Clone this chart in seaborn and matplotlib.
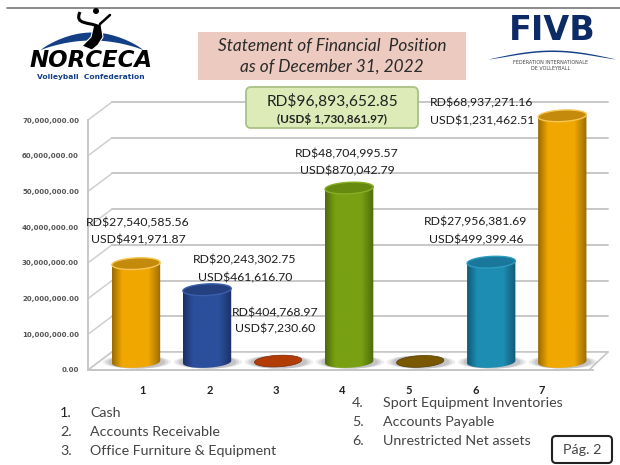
import numpy as np
import matplotlib
matplotlib.use("Agg")
import matplotlib.pyplot as plt
import seaborn as sns
from matplotlib.colors import LinearSegmentedColormap
from matplotlib.patches import Ellipse, FancyBboxPatch, PathPatch, Polygon, Rectangle
from matplotlib.path import Path

categories = ["1", "2", "3", "4", "5", "6", "7"]
values = [27540585.56, 20243302.75, 404768.97, 48704995.57, 300000.0, 27956381.69, 68937271.16]
rd_labels = ["RD$27,540,585.56", "RD$20,243,302.75", "RD$404,768.97", "RD$48,704,995.57",
             "RD$27,956,381.69", "RD$68,937,271.16"]
usd_labels = ["USD$491,971.87", "USD$461,616.70", "USD$7,230.60", "USD$870,042.79",
              "USD$499,399.46", "USD$1,231,462.51"]
y_ticks = [0, 10000000, 20000000, 30000000, 40000000, 50000000, 60000000, 70000000]
y_tick_labels = ["0.00", "10,000,000.00", "20,000,000.00", "30,000,000.00", "40,000,000.00",
                 "50,000,000.00", "60,000,000.00", "70,000,000.00"]
legend_left = ["Cash", "Accounts Receivable", "Office Furniture & Equipment"]
legend_right = ["Sport Equipment Inventories", "Accounts Payable", "Unrestricted Net assets"]
bar_colors = ["#f0a800", "#2c4f9c", "#b23c06", "#78a012", "#7a5800", "#1d8db2", "#f0a800"]
top_colors = ["#c48a0c", "#24407f", "#b23c06", "#668a10", "#7a5800", "#18779a", "#c48a0c"]
rim_colors = ["#f6c652", "#3a5fae", "#8f3005", "#88ae26", "#5c4300", "#2d9cc0", "#f6c652"]
dark_colors = ["#9a6c00", "#1b3166", "#7a2803", "#4e6c0c", "#4f3a00", "#115a78", "#9a6c00"]

sns.set_theme(style="white")
plt.rcParams["font.family"] = ["Lato", "DejaVu Sans"]
W, H = 620, 465
fig = plt.figure(figsize=(W / 100, H / 100), dpi=100, facecolor="white")


def px_axes(x0, y_top, x1, y_bot, z):
    return fig.add_axes([x0 / W, 1 - y_bot / H, (x1 - x0) / W, (y_bot - y_top) / H], zorder=z)


bg = px_axes(0, 0, W, H, 0)
bg.set_xlim(0, W)
bg.set_ylim(H, 0)
bg.axis("off")
top = px_axes(0, 0, W, H, 5)
top.set_xlim(0, W)
top.set_ylim(H, 0)
top.axis("off")
top.patch.set_alpha(0)

# frame axes: the front plane of the 3-D chart
frame = px_axes(88, 120, 593, 370, 1)
frame.patch.set_alpha(0)
frame.set_xlim(-0.827, 6.77)
frame.set_ylim(0, 70000000)
frame.set_yticks(y_ticks, y_tick_labels, fontsize=5.05, fontweight="bold", color="#555555",
                 family=["DejaVu Sans"])
frame.set_xticks(range(len(categories)), categories, fontsize=8, fontweight="bold", color="#222222")
frame.tick_params(axis="both", length=0)
frame.tick_params(axis="y", pad=6.5)
frame.tick_params(axis="x", pad=10.5)
sns.despine(ax=frame, top=True, right=True)
for side in ("left", "bottom"):
    frame.spines[side].set_color("#c4c4c4")
    frame.spines[side].set_linewidth(1.3)

# depth lines and floor
dx, dy = 24, -18
for v in y_ticks:
    y = H - frame.transData.transform((0, v))[1]
    bg.plot([88, 88 + dx], [y, y + dy], color="#cfcfcf", lw=1.1)
    bg.plot([88 + dx, 608], [y + dy, y + dy], color="#c8c8c8", lw=1.4)
bg.add_patch(Polygon([(88, 370), (112, 352), (608, 352), (589, 370)], closed=True,
                     facecolor="white", edgecolor="#c8c8c8", lw=1.2, zorder=3))

# bars axes: same scale, raised to the middle of the floor
scale = 250 / 70000000
margin_px = 20
bars = px_axes(88, 362 - scale * 72000000, 612, 362 + margin_px, 2)
bars.patch.set_alpha(0)
sns.barplot(x=categories, y=values, ax=bars, width=0.68, color="#000000", saturation=1)
bars.set_xlim(-0.676, 6.70)
bars.set_ylim(-margin_px / scale, 72000000)
bars.axis("off")
xl, yl = bars.get_xlim(), bars.get_ylim()
ell_h = 11.5 / scale
tilt = 1.2 / scale


def ellipse_points(xc, yc, w, h, t0=0.0, t1=2 * np.pi):
    t = np.linspace(t0, t1, 60)
    ex = np.cos(t)
    return np.column_stack([xc + w / 2 * ex, yc + h / 2 * np.sin(t) + tilt * ex])


for i, rect in enumerate(list(bars.patches)):
    x0, w, v = rect.get_x(), rect.get_width(), rect.get_height()
    rect.set_visible(False)
    xc = x0 + w / 2
    # soft floor shadow
    for grow, a in ((1.42, 0.12), (1.30, 0.16), (1.18, 0.22)):
        bars.add_patch(Ellipse((xc + 0.01, 0.0), w * grow, ell_h * 1.15, facecolor="#77757f",
                               edgecolor="none", alpha=a, zorder=1))
    cmap = LinearSegmentedColormap.from_list(
        "c", [(0, dark_colors[i]), (0.2, bar_colors[i]), (0.75, bar_colors[i]), (1, dark_colors[i])])
    if v > 2000000:
        low = ellipse_points(xc, 0, w, ell_h, np.pi, 2 * np.pi)
        upper = ellipse_points(xc, v, w, ell_h, 0, np.pi)
        pts = np.vstack([low, upper, low[:1]])
        clip = PathPatch(Path(pts), transform=bars.transData, facecolor="none", edgecolor="none")
        bars.add_patch(clip)
        im = bars.imshow(np.linspace(0, 1, 64)[None, :], cmap=cmap, aspect="auto",
                         extent=(x0, x0 + w, -ell_h, v + ell_h), zorder=2)
        im.set_clip_path(clip)
        bars.add_patch(Polygon(ellipse_points(xc, v, w, ell_h), closed=True, facecolor=top_colors[i],
                               edgecolor=rim_colors[i], lw=1.0, zorder=3))
    else:
        bars.add_patch(Polygon(ellipse_points(xc, v - 0.5 / scale, w * 0.98, ell_h), closed=True,
                               facecolor=top_colors[i], edgecolor=dark_colors[i], lw=0.5, zorder=3))
bars.set_xlim(xl)
bars.set_ylim(yl)

bg.plot([7, 620], [8, 8], color="#777777", lw=1.2)

# title box
top.add_patch(Rectangle((198, 32), 268, 48, facecolor="#eccabf", edgecolor="none"))
top.text(332, 46, "Statement of Financial  Position", ha="center", va="center", fontsize=12.4,
         fontstyle="italic", color="#2a2a2a")
top.text(332, 67, "as of December 31, 2022", ha="center", va="center", fontsize=12.4,
         fontstyle="italic", color="#2a2a2a")

# total box
top.add_patch(FancyBboxPatch((248, 89), 168, 37, boxstyle="round,pad=2,rounding_size=5",
                             facecolor="#dcebb8", edgecolor="#a9c184", lw=1.3))
top.text(332, 101, "RD$96,893,652.85", ha="center", va="center", fontsize=11.2, color="#222222")
top.text(332, 119, "(USD$ 1,730,861.97)", ha="center", va="center", fontsize=8.5,
         fontweight="bold", color="#222222")

# value labels
label_xy = [(138, 223, 240), (245, 260, 278), (275, 313, 329), (347, 154, 171), (476, 222, 240), (482, 103, 121)]
for (lx, y1, y2), rd, usd in zip(label_xy, rd_labels, usd_labels):
    top.text(lx, y1, rd, ha="center", va="center", fontsize=8.8, color="#1c1c1c")
    top.text(lx, y2, usd, ha="center", va="center", fontsize=8.8, color="#1c1c1c")

# legend lists
for k, name in enumerate(legend_left):
    y = 413 + k * 19
    top.text(60, y, f"{k + 1}.", va="center", fontsize=10.3, color="#222222" if k == 0 else "#444444")
    top.text(90, y, name, va="center", fontsize=10.3, color="#444444")
for k, name in enumerate(legend_right):
    y = 403 + k * 19
    top.text(352, y, f"{k + 4}.", va="center", fontsize=10.3, color="#444444")
    top.text(383, y, name, va="center", fontsize=10.3, color="#444444")
top.add_patch(FancyBboxPatch((553, 437), 58, 25, boxstyle="round,pad=1,rounding_size=4",
                             facecolor="white", edgecolor="#222222", lw=1.5))
top.text(582, 450, "Pág. 2", ha="center", va="center", fontsize=10.3, color="#444444")

# NORCECA mark
arc = np.linspace(0, 1, 40)
xs = 40 + 103 * arc
upper = 50 - 18 * np.sin(np.pi * arc) ** 0.8
lower = 50 - 10 * np.sin(np.pi * arc) ** 0.8
top.fill_between(xs, lower, upper, color="#123f86", lw=0)
top.add_patch(Polygon([(92, 50), (82, 46), (91, 37), (94, 24), (101, 24), (103, 37), (98, 45)], closed=True,
                      facecolor="black", edgecolor="white", lw=0.8))
top.text(91, 60.5, "NORCECA", ha="center", va="center", fontsize=16.5, fontweight="bold",
         fontstyle="oblique", family=["DejaVu Sans"], color="black")
top.text(91, 77.5, "Volleyball  Confederation", ha="center", va="center", fontsize=5.4,
         fontweight="bold", family=["DejaVu Sans"], color="#123f86")
top.add_patch(Ellipse((96, 11), 6, 6, facecolor="black", edgecolor="none"))
top.add_patch(PathPatch(Path([(80, 12), (74, 25), (90, 22), (97, 26)], [1, 4, 4, 4]),
                        facecolor="none", edgecolor="black", lw=2.2))
top.plot([100, 110], [24, 15], color="black", lw=1.8)

# FIVB mark
top.text(552, 31, "FIVB", ha="center", va="center", fontsize=24, fontweight="bold",
         family=["DejaVu Sans"], color="#0b2a66")
arc2 = np.linspace(0, 1, 40)
top.fill_between(488 + 128 * arc2, 59 - 9 * np.sin(np.pi * arc2), 59 - 7.5 * np.sin(np.pi * arc2) ** 1.2,
                 color="#123f86", lw=0)
top.text(551, 62, "FÉDÉRATION INTERNATIONALE", ha="center", va="center", fontsize=3.5, color="#444444",
         family=["DejaVu Sans"])
top.text(551, 69, "DE VOLLEYBALL", ha="center", va="center", fontsize=3.5, color="#444444",
         family=["DejaVu Sans"])

fig.savefig("out.png", dpi=100, facecolor="white")
